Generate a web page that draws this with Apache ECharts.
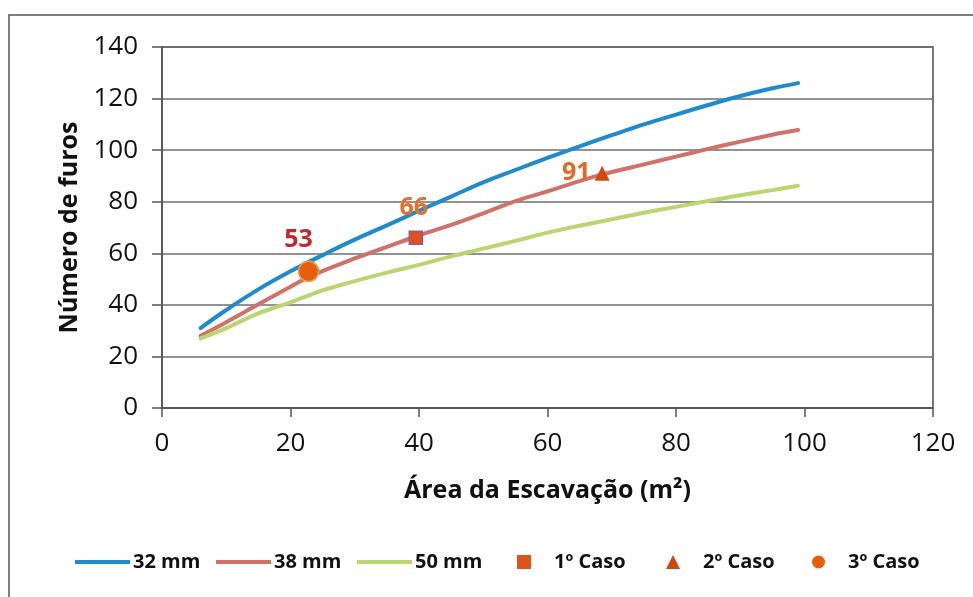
<!DOCTYPE html>
<html>
<head>
<meta charset="utf-8">
<script src="https://cdn.jsdelivr.net/npm/echarts@6/dist/echarts.min.js"></script>
<style>
  html, body { margin: 0; padding: 0; background: #fff; }
  #chart { width: 973px; height: 597px; }
</style>
</head>
<body>
<div id="chart"></div>
<script>
// Hole-count curves per drill diameter (area in m², number of holes)
const areaX32 = [6, 10, 15, 20, 25, 30, 35, 40, 45, 50, 55, 60, 65, 70, 75, 80, 85, 90, 95, 99];
const furos32 = [31, 38, 46, 53, 59.3, 65.3, 70.8, 76.5, 82, 87.5, 92.3, 97, 101.5, 105.8, 110, 113.8, 117.5, 121, 124, 126];

const areaX38 = [6, 10, 15, 20, 23, 30, 35, 40, 45, 50, 55, 60, 65, 68, 75, 80, 85, 90, 95, 99];
const furos38 = [28, 33.3, 40.2, 47, 51, 58, 62.5, 67, 71, 75.5, 80.2, 84, 88, 90.2, 94.5, 97.5, 100.5, 103.3, 106, 107.8];

const areaX50 = [6, 10, 15, 20, 25, 30, 35, 40, 45, 50, 55, 60, 65, 70, 75, 80, 85, 90, 95, 99];
const furos50 = [27, 31, 36.7, 41, 45.6, 49.2, 52.5, 55.5, 58.8, 61.8, 64.8, 68, 70.7, 73.2, 75.7, 78, 80.3, 82.5, 84.5, 86.2];

// Worked cases
const casoNames = ['1º Caso', '2º Caso', '3º Caso'];
const casoX = [39.5, 68.5, 22.8];
const casoY = [66, 91, 53];

const lineNames = ['32 mm', '38 mm', '50 mm'];
const xTicks = [0, 20, 40, 60, 80, 100, 120];
const yTicks = [0, 20, 40, 60, 80, 100, 120, 140];

const pairs = (xs, ys) => xs.map((x, i) => [x, ys[i]]);

const lineColors = ['#1f8bcf', '#d0716a', '#b9d670'];
const lineData = [pairs(areaX32, furos32), pairs(areaX38, furos38), pairs(areaX50, furos50)];

const casoStyle = [
  { symbol: 'rect', size: 13, color: '#e0521c', border: '#8e5aa0', borderWidth: 1.5,
    labelColor: '#e4702a', offset: [-2, -6], position: 'top' },
  { symbol: 'triangle', size: 15, color: '#d2490f', border: '#d2490f', borderWidth: 0,
    labelColor: '#e2691f', offset: [0, 0], position: 'left' },
  { symbol: 'circle', size: 20, color: '#e65f0c', border: '#f39a4a', borderWidth: 1.5,
    labelColor: '#c4272e', offset: [-10, -4], position: 'top' }
];

const uiFont = '"Open Sans", "DejaVu Sans", sans-serif';

const series = [];
lineNames.forEach((name, i) => {
  series.push({
    name: name,
    type: 'line',
    data: lineData[i],
    smooth: 0.4,
    showSymbol: false,
    symbol: 'none',
    lineStyle: { color: lineColors[i], width: 4, cap: 'round' },
    itemStyle: { color: lineColors[i] },
    z: 3
  });
});
casoNames.forEach((name, i) => {
  const s = casoStyle[i];
  series.push({
    name: name,
    type: 'scatter',
    symbol: s.symbol,
    symbolSize: s.size,
    data: [[casoX[i], casoY[i]]],
    itemStyle: { color: s.color, borderColor: s.border, borderWidth: s.borderWidth, opacity: 1 },
    label: {
      show: true,
      position: s.position,
      distance: 4,
      offset: s.offset,
      formatter: (p) => String(p.value[1]),
      color: s.labelColor,
      fontFamily: uiFont,
      fontWeight: 'bold',
      fontSize: 25
    },
    z: 5
  });
});

// One legend block per entry so the spacing follows the layout below the plot
const legendLeft = [75, 216, 357, 517, 666, 812];
const legends = [];
lineNames.forEach((name, i) => {
  legends.push({
    data: [name],
    left: legendLeft[i],
    top: 552,
    padding: 0,
    icon: 'rect',
    itemWidth: 55,
    itemHeight: 4,
    itemGap: 0,
    selectedMode: false,
    textStyle: { fontFamily: uiFont, fontWeight: 'bold', fontSize: 20, color: '#111', padding: [0, 0, 0, -2] }
  });
});
casoNames.forEach((name, i) => {
  legends.push({
    data: [{ name: name, itemStyle: { borderWidth: 0 } }],
    left: legendLeft[3 + i],
    top: 552,
    padding: 0,
    itemWidth: i === 2 ? 13 : 14,
    itemHeight: i === 2 ? 13 : 14,
    itemGap: 0,
    selectedMode: false,
    textStyle: { fontFamily: uiFont, fontWeight: 'bold', fontSize: 20, color: '#111', padding: [0, 0, 0, 18] }
  });
});

const chart = echarts.init(document.getElementById('chart'), null, { renderer: 'canvas' });
chart.setOption({
  backgroundColor: '#ffffff',
  animation: false,
  grid: {
    left: 162, right: 40, top: 47, bottom: 189,
    show: true, borderColor: '#4a4a4a', borderWidth: 1.5, backgroundColor: 'transparent'
  },
  graphic: [{
    type: 'polyline',
    shape: { points: [[9, 597], [9, 15], [973, 15]] },
    style: { stroke: '#555', lineWidth: 1.5, fill: null },
    silent: true
  }],
  legend: legends,
  xAxis: {
    type: 'value',
    min: xTicks[0],
    max: xTicks[xTicks.length - 1],
    interval: 20,
    name: 'Área da Escavação (m²)',
    nameLocation: 'middle',
    nameGap: 70,
    nameTextStyle: { fontFamily: uiFont, fontWeight: 'bold', fontSize: 25, color: '#111' },
    axisLine: { show: true, lineStyle: { color: '#555', width: 1.5 } },
    axisTick: { show: true, length: 9, lineStyle: { color: '#555', width: 1.5 } },
    axisLabel: { margin: 23, fontFamily: uiFont, fontSize: 26, color: '#111',
      formatter: (v) => xTicks.includes(v) ? String(v) : '' },
    splitLine: { show: false }
  },
  yAxis: {
    type: 'value',
    min: yTicks[0],
    max: yTicks[yTicks.length - 1],
    interval: 20,
    name: 'Número de furos',
    nameLocation: 'middle',
    nameGap: 79,
    nameTextStyle: { fontFamily: uiFont, fontWeight: 'bold', fontSize: 25, color: '#111' },
    axisLine: { show: true, lineStyle: { color: '#555', width: 1.5 } },
    axisTick: { show: true, length: 10, lineStyle: { color: '#555', width: 1.5 } },
    axisLabel: { margin: 24, fontFamily: uiFont, fontSize: 26, color: '#111',
      formatter: (v) => yTicks.includes(v) ? String(v) : '' },
    splitLine: { show: true, lineStyle: { color: '#6e6e6e', width: 1.5 } }
  },
  series: series
});
</script>
</body>
</html>
